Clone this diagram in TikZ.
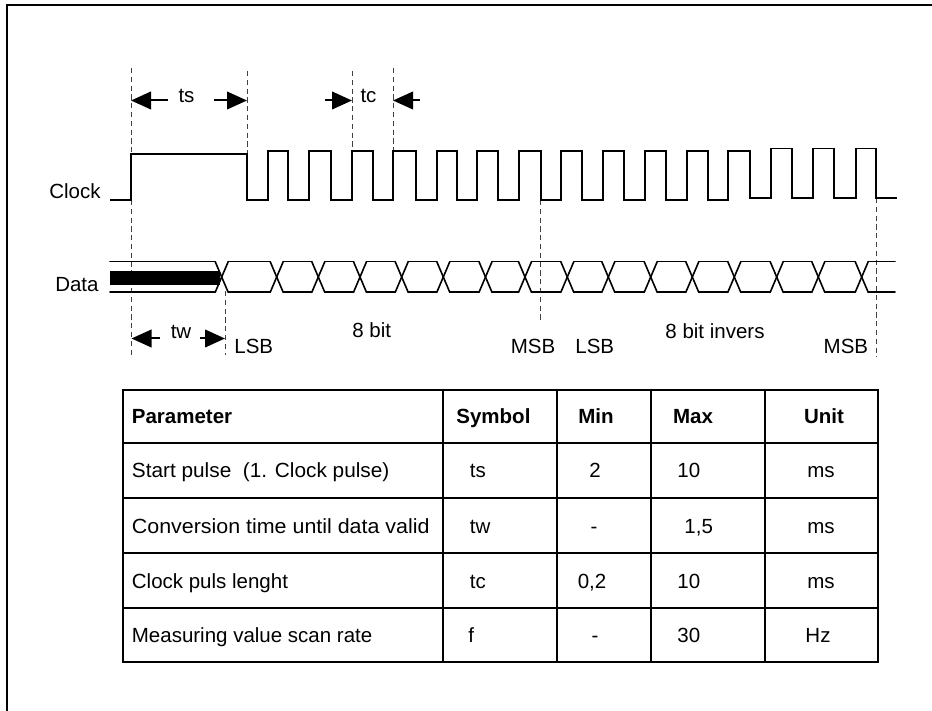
\documentclass[tikz,border=0pt]{standalone}
\usepackage{fontspec}
\usepackage{graphicx}
\setmainfont{Liberation Sans}
\usetikzlibrary{arrows.meta}
\begin{document}
\begin{tikzpicture}[x=0.5pt,y=-0.5pt,
  font=\fontsize{10.25}{12}\selectfont,
  wave/.style={line width=0.9pt, line join=miter},
  dat/.style={line width=0.8pt, line cap=round},
  guide/.style={line width=0.5pt, black!75, dash pattern=on 2.6pt off 1.8pt},
  dimarr/.style={line width=1pt, -{Triangle[length=10pt,width=8.8pt]}},
  tabline/.style={line width=1pt},
  lbl/.style={inner sep=0pt, anchor=base},
  lblw/.style={inner sep=0pt, anchor=base west},
  lble/.style={inner sep=0pt, anchor=base east},
  hdr/.style={inner sep=0pt, font=\fontsize{10.25}{12}\selectfont\bfseries}]
\useasboundingbox (0,0) rectangle (932,711);

% outer frame
\draw[line width=1pt] (6.5,711) -- (6.5,5) -- (932,5);

% guide lines
\draw[guide] (131,68) -- (131,357);
\draw[guide] (247,71) -- (247,154);
\draw[guide] (352,71) -- (352,151);
\draw[guide] (393,68) -- (393,151);
\draw[guide] (225,291) -- (225,355);
\draw[guide] (540.7,200) -- (540.7,322);
\draw[guide] (876,198) -- (876,357);

% clock
\draw[wave] (110,200) -- (131,200) -- (131,154) -- (247,154) -- (247,200)
 -- (268,200) -- (268,151) -- (288,151) -- (288,200)
 -- (309,200) -- (309,151) -- (331,151) -- (331,200)
 -- (352,200) -- (352,151) -- (373,151) -- (373,200)
 -- (393,200) -- (393,151) -- (415.7,151) -- (415.7,200)
 -- (436.7,200) -- (436.7,151) -- (456.7,151) -- (456.7,200)
 -- (477,200) -- (477,151) -- (498,151) -- (498,200)
 -- (519,200) -- (519,151) -- (541,151) -- (541,200)
 -- (561,200) -- (561,151) -- (582,151) -- (582,200)
 -- (602.7,200) -- (602.7,151) -- (624,151) -- (624,200)
 -- (645,200) -- (645,151) -- (665.7,151) -- (665.7,200)
 -- (686.7,200) -- (686.7,151) -- (707.7,151) -- (707.7,200)
 -- (728,200) -- (728,151) -- (750,151) -- (750,198)
 -- (771,198) -- (771,148.5) -- (792,148.5) -- (792,198)
 -- (812.7,198) -- (812.7,148.5) -- (834,148.5) -- (834,198)
 -- (855.7,198) -- (855.7,148.5) -- (876,148.5) -- (876,198)
 -- (897,198);

% data
\fill (110,270.7) rectangle (220,285);
\draw[dat] (110,261.7) -- (215.2,261.7);
\draw[dat] (110,292.3) -- (215.2,292.3);
\foreach \c/\n in {221.7/276.7, 276.7/318.3, 318.3/360, 360/401.7, 401.7/443.3,
  443.3/485.5, 485.5/525, 525/567.3, 567.3/608.3, 608.3/650.7, 650.7/692.3,
  692.3/734.3, 734.3/776.7, 776.7/818.3, 818.3/861.7, 861.7/901.5} {
  \draw[dat] ({\c-6.5},261.7) -- ({\c+6.5},292.3);
  \draw[dat] ({\c-6.5},292.3) -- ({\c+6.5},261.7);
  \draw[dat] ({\c+6.5},261.7) -- ({\n-6.5},261.7);
  \draw[dat] ({\c+6.5},292.3) -- ({\n-6.5},292.3);
}

% dimension arrows
\coordinate (tsA) at (131,100.5);   \coordinate (tsAt) at (168,100.5);
\coordinate (tsB) at (247,100.5);   \coordinate (tsBt) at (214,100.5);
\coordinate (tcA) at (352,100.5);   \coordinate (tcAt) at (325,100.5);
\coordinate (tcB) at (393,100.5);   \coordinate (tcBt) at (420,100.5);
\coordinate (twA) at (131.5,338.5); \coordinate (twAt) at (160,338.5);
\coordinate (twB) at (225,338.5);   \coordinate (twBt) at (200,338.5);
\draw[dimarr] (tsAt) -- (tsA);
\draw[dimarr] (tsBt) -- (tsB);
\draw[dimarr] (tcAt) -- (tcA);
\draw[dimarr] (tcBt) -- (tcB);
\draw[dimarr] (twAt) -- (twA);
\draw[dimarr] (twBt) -- (twB);

% waveform labels
\node[lbl] (ts) at (186.5,102.5) {ts};
\node[lbl] (tc) at (368.5,102.5) {tc};
\node[lble] (clock) at (101,198.3) {Clock};
\node[lble] (data) at (99,292) {Data};
\node[lbl] (tw) at (181,338.5) {tw};
\node[lblw] (lsb1) at (234,353.5) {LSB};
\node[lbl] (bit8) at (371.7,337.5) {8 bit};
\node[lblw] (msb1) at (510.5,353.5) {MSB};
\node[lblw] (lsb2) at (575,353.5) {LSB};
\node[lbl] (bit8i) at (715,338) {8 bit invers};
\node[lble] (msb2) at (868.5,353.5) {MSB};

% table grid
\draw[tabline] (123.3,390) rectangle (878,662);
\foreach \y in {442.7,498.3,553.3,608.3} \draw[tabline] (123.3,\y) -- (878,\y);
\foreach \x in {443.3,556.7,651,765} \draw[tabline] (\x,390) -- (\x,662);

% table header
\node[hdr, anchor=base west] (hpar) at (131.5,423.6) {Parameter};
\node[hdr, anchor=base west] (hsym) at (456,423.6) {Symbol};
\node[hdr, anchor=base] (hmin) at (596,423.6) {Min};
\node[hdr, anchor=base] (hmax) at (693,423.6) {Max};
\node[hdr, anchor=base] (hunit) at (824,423.6) {Unit};

% row 1
\node[lblw] (p1) at (131.5,477.8) {\scalebox{1.015}[1]{Start pulse\ \ (1. Clock pulse)}};
\node[lblw] (s1) at (469.5,477.8) {ts};
\node[lbl] (n1) at (595,477.8) {2};
\node[lblw] (x1) at (677,477.8) {10};
\node[lbl] (u1) at (821,477.8) {ms};
% row 2
\node[lblw] (p2) at (131.5,533) {\scalebox{1.045}[1]{Conversion time until data valid}};
\node[lblw] (s2) at (469.5,533) {tw};
\node[lbl] (n2) at (594,533) {-};
\node[lblw] (x2) at (684,533) {1,5};
\node[lbl] (u2) at (821,533) {ms};
% row 3
\node[lblw] (p3) at (131.5,588) {Clock puls lenght};
\node[lblw] (s3) at (469.5,588) {tc};
\node[lbl] (n3) at (592,588) {0,2};
\node[lblw] (x3) at (677,588) {10};
\node[lbl] (u3) at (821,588) {ms};
% row 4
\node[lblw] (p4) at (131.5,642.3) {Measuring value scan rate};
\node[lblw] (s4) at (468,642.3) {f};
\node[lbl] (n4) at (595,642.3) {-};
\node[lblw] (x4) at (677,642.3) {30};
\node[lbl] (u4) at (818,642.3) {Hz};
\end{tikzpicture}
\end{document}
